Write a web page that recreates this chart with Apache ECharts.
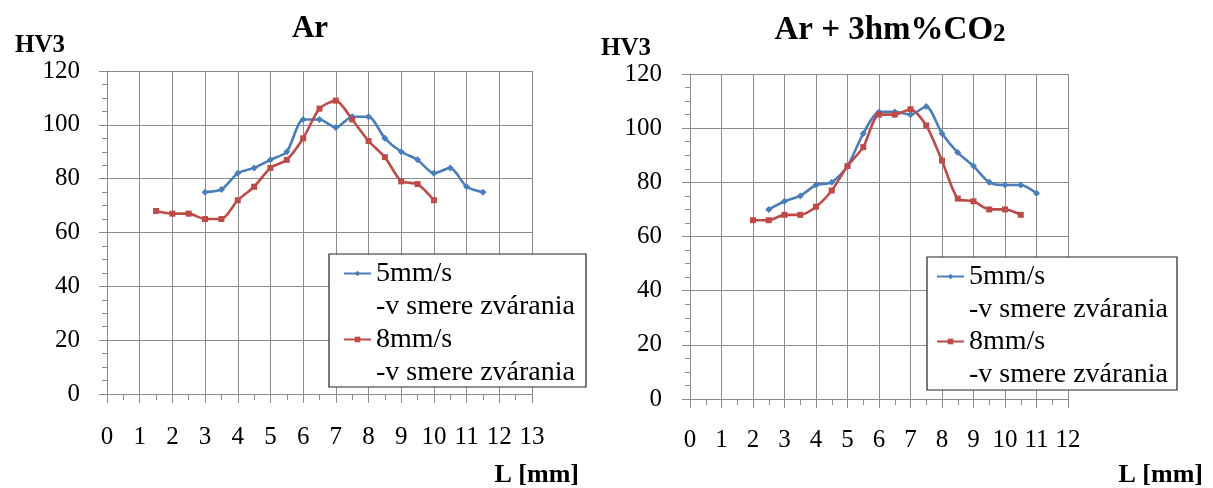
<!DOCTYPE html>
<html>
<head>
<meta charset="utf-8">
<script src="https://cdn.jsdelivr.net/npm/echarts@6/dist/echarts.min.js"></script>
<style>
  html, body { margin: 0; padding: 0; background: #fff; }
  #chart { width: 1213px; height: 488px; }
</style>
</head>
<body>
<div id="chart"></div>
<script>
// Hardness HV3 across the weld, position L in mm
const arL5 = [3, 3.5, 4, 4.5, 5, 5.5, 6, 6.5, 7, 7.5, 8, 8.5, 9, 9.5, 10, 10.5, 11, 11.5];
const arHV5 = [75, 76, 82, 84, 87, 90, 102, 102, 99, 103, 103, 95, 90, 87, 82, 84, 77, 75];
const arL8 = [1.5, 2, 2.5, 3, 3.5, 4, 4.5, 5, 5.5, 6, 6.5, 7, 7.5, 8, 8.5, 9, 9.5, 10];
const arHV8 = [68, 67, 67, 65, 65, 72, 77, 84, 87, 95, 106, 109, 102, 94, 88, 79, 78, 72];

const co2L5 = [2.5, 3, 3.5, 4, 4.5, 5, 5.5, 6, 6.5, 7, 7.5, 8, 8.5, 9, 9.5, 10, 10.5, 11];
const co2HV5 = [70, 73, 75, 79, 80, 86, 98, 106, 106, 105, 108, 98, 91, 86, 80, 79, 79, 76];
const co2L8 = [2, 2.5, 3, 3.5, 4, 4.5, 5, 5.5, 6, 6.5, 7, 7.5, 8, 8.5, 9, 9.5, 10, 10.5];
const co2HV8 = [66, 66, 68, 68, 71, 77, 86, 93, 105, 105, 107, 101, 88, 74, 73, 70, 70, 68];

const seriesNames = ['5mm/s', '8mm/s'];
const legendSuffix = '-v smere zvárania';
const chartTitles = ['Ar', 'Ar + 3hm%CO{s|2}'];
const yName = 'HV3';
const xName = 'L [mm]';
const xMax = [13, 12];

const BLUE = '#4A7EBB';
const RED = '#BE4B48';
const GRID = '#8c8c8c';
const FONT = '"Liberation Serif", "Times New Roman", serif';

const pairs = (xs, ys) => xs.map((x, i) => [x, ys[i]]);

function xAxisFor(idx, margin) {
  return {
    type: 'value', gridIndex: idx, min: 0, max: xMax[idx], interval: 1,
    axisLine: { show: true, onZero: false, lineStyle: { color: GRID, width: 1 } },
    axisTick: { show: true, length: 9, lineStyle: { color: GRID } },
    minorTick: { show: true, splitNumber: 2, length: 6, lineStyle: { color: GRID } },
    splitLine: { show: true, lineStyle: { color: GRID, width: 1 } },
    axisLabel: { color: '#000', fontFamily: FONT, fontSize: 25, margin: margin, showMinLabel: true, showMaxLabel: true }
  };
}
function yAxisFor(idx, margin) {
  return {
    type: 'value', gridIndex: idx, min: 0, max: 120, interval: 20,
    axisLine: { show: true, lineStyle: { color: GRID, width: 1 } },
    axisTick: { show: true, length: 8, lineStyle: { color: GRID } },
    minorTick: { show: true, splitNumber: 4, length: 5, lineStyle: { color: GRID } },
    splitLine: { show: true, lineStyle: { color: GRID, width: 1 } },
    axisLabel: { color: '#000', fontFamily: FONT, fontSize: 25, margin: margin }
  };
}
function lineSeries(name, color, symbol, size, idx, data) {
  return {
    name: name, type: 'line', xAxisIndex: idx, yAxisIndex: idx,
    data: data, smooth: 0.25,
    symbol: symbol, symbolSize: size, showSymbol: true,
    lineStyle: { color: color, width: 2.6 },
    itemStyle: { color: color },
    emphasis: { disabled: true },
    z: 2
  };
}
function legendFor(name, left, top) {
  return {
    data: [name], orient: 'vertical', left: left, top: top, padding: 0,
    itemWidth: 27, itemHeight: 7, selectedMode: false,
    formatter: (n) => ' \n' + n + '\n' + legendSuffix,
    textStyle: { color: '#000', fontFamily: FONT, fontSize: 28, lineHeight: 33 }
  };
}
const titleBold = { color: '#000', fontFamily: FONT, fontWeight: 'bold' };

const option = {
  animation: false,
  backgroundColor: '#fff',
  title: [
    { text: chartTitles[0], left: 305, top: 8, textAlign: 'center',
      textStyle: Object.assign({ fontSize: 31 }, titleBold) },
    { text: chartTitles[1], left: 885, top: 9, textAlign: 'center',
      textStyle: Object.assign({ fontSize: 33, rich: { s: Object.assign({ fontSize: 25, padding: [8, 0, 0, 0] }, titleBold) } }, titleBold) },
    { text: yName, left: 10, top: 28, textStyle: Object.assign({ fontSize: 25 }, titleBold) },
    { text: yName, left: 596, top: 31, textStyle: Object.assign({ fontSize: 25 }, titleBold) },
    { text: xName, right: 629, top: 457, textStyle: Object.assign({ fontSize: 26 }, titleBold) },
    { text: xName, right: 5, top: 457, textStyle: Object.assign({ fontSize: 26 }, titleBold) }
  ],
  grid: [
    { left: 107, top: 71, width: 425, height: 323 },
    { left: 690, top: 74, width: 378, height: 325 }
  ],
  xAxis: [xAxisFor(0, 31), xAxisFor(1, 29)],
  yAxis: [yAxisFor(0, 27), yAxisFor(1, 28)],
  legend: [
    legendFor(seriesNames[0], 343, 224),
    legendFor(seriesNames[1], 343, 290),
    legendFor(seriesNames[0], 936, 227),
    legendFor(seriesNames[1], 936, 292)
  ],
  graphic: [
    { type: 'rect', z: 3, shape: { x: 329, y: 254, width: 257, height: 133 },
      style: { fill: '#fff', stroke: '#222', lineWidth: 1.2 } },
    { type: 'rect', z: 3, shape: { x: 927, y: 257, width: 250, height: 133 },
      style: { fill: '#fff', stroke: '#222', lineWidth: 1.2 } }
  ],
  series: [
    lineSeries(seriesNames[0], BLUE, 'diamond', 7, 0, pairs(arL5, arHV5)),
    lineSeries(seriesNames[1], RED, 'rect', 6, 0, pairs(arL8, arHV8)),
    lineSeries(seriesNames[0], BLUE, 'diamond', 7, 1, pairs(co2L5, co2HV5)),
    lineSeries(seriesNames[1], RED, 'rect', 6, 1, pairs(co2L8, co2HV8))
  ]
};

const chart = echarts.init(document.getElementById('chart'), null, { renderer: 'canvas' });
chart.setOption(option);
</script>
</body>
</html>
